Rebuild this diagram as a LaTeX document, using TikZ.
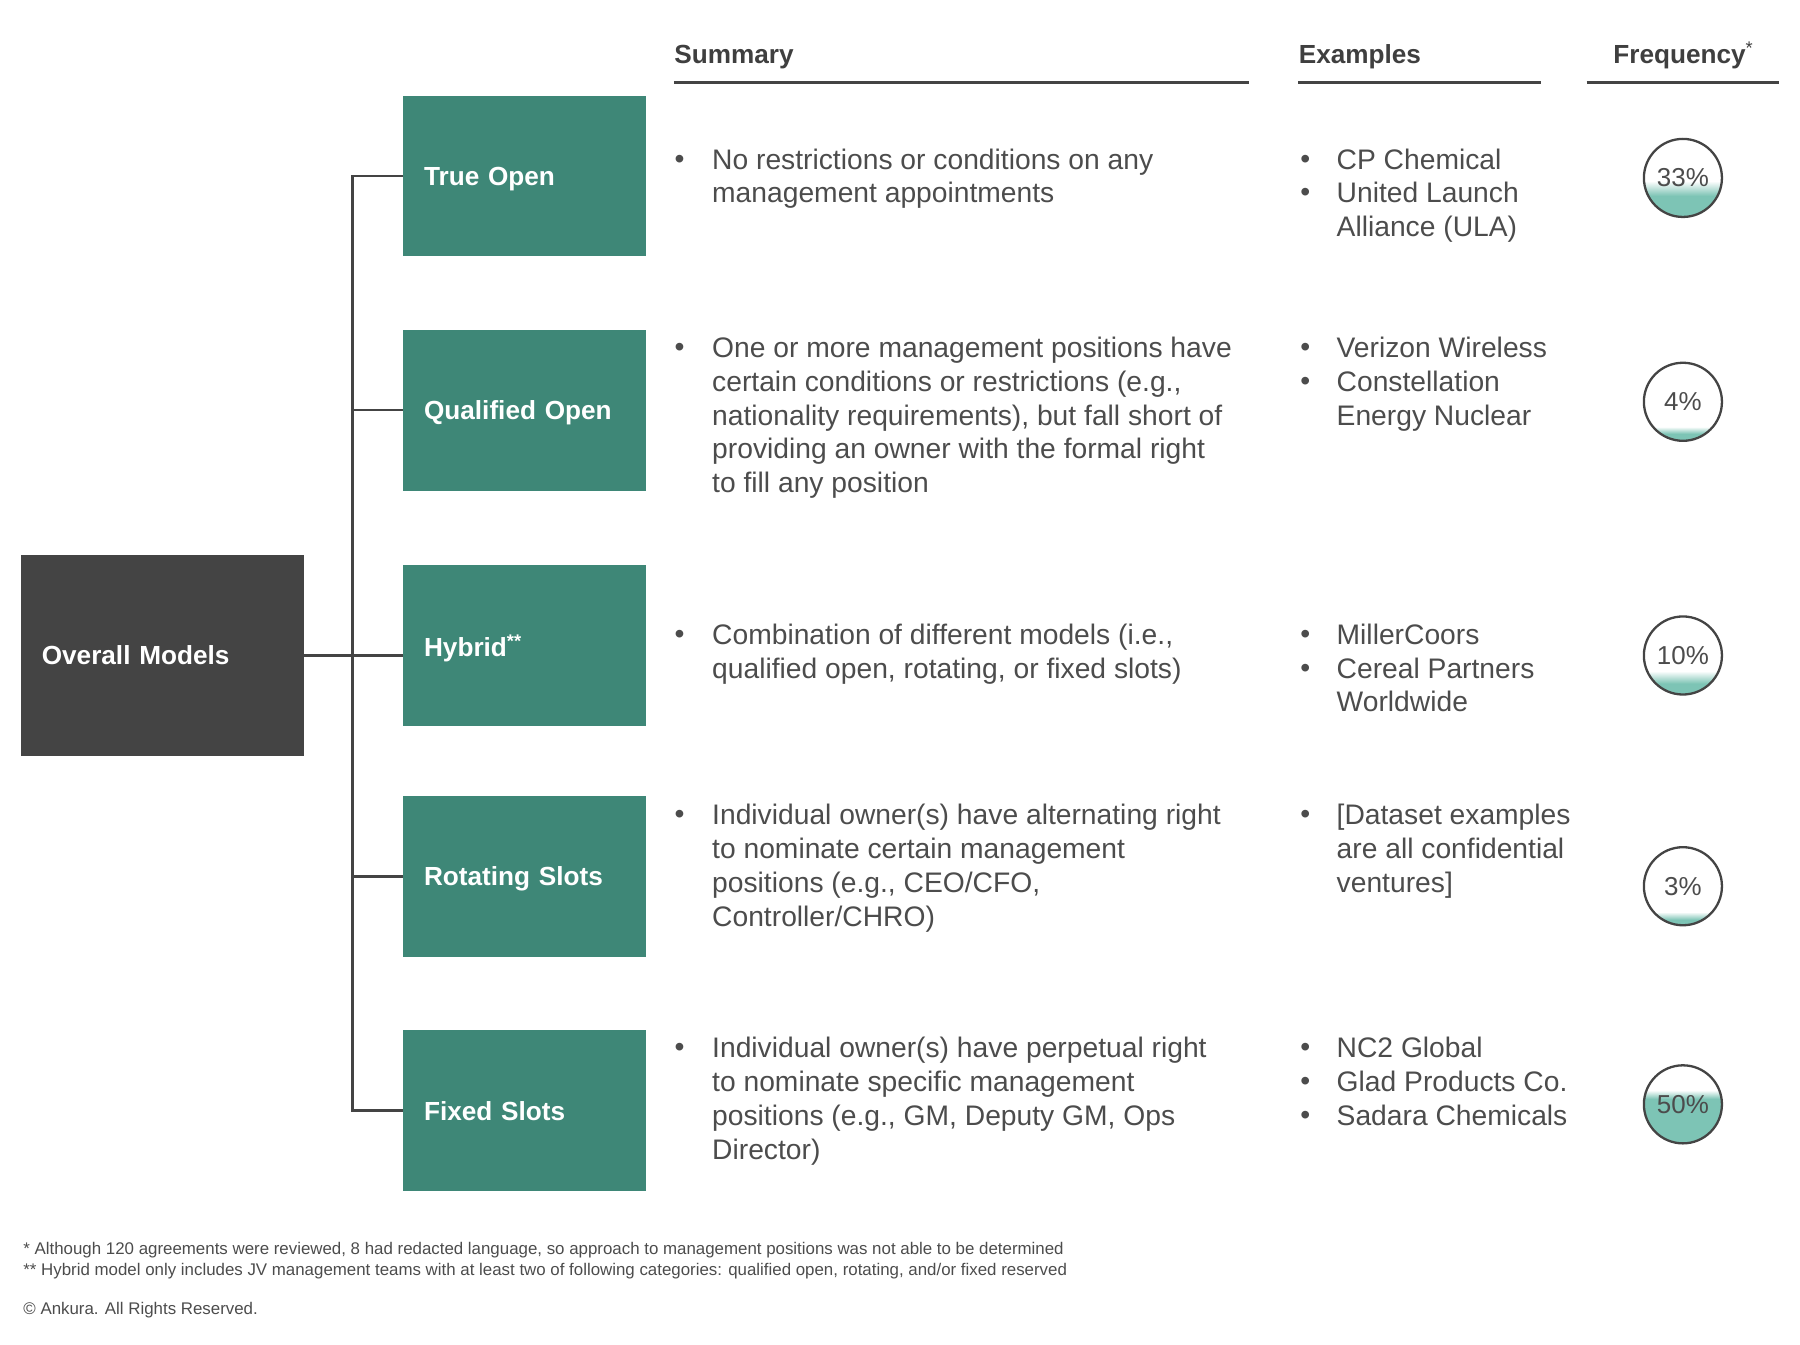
\documentclass[tikz,border=0pt]{standalone}
\usepackage{fontspec}
\setmainfont{Liberation Sans}
\definecolor{boxgreen}{HTML}{3E8777}
\definecolor{boxdark}{HTML}{444444}
\definecolor{txtgray}{HTML}{4C4C4C}
\definecolor{hdrgray}{HTML}{3F3F3F}
\definecolor{lteal}{HTML}{7DC4B5}
\newcommand\bodyf{\fontsize{12.3}{14.75}\selectfont}
\newcommand\circf{\fontsize{11.3}{13}\selectfont}
\newcommand\hdrf{\fontsize{11.4}{13.5}\selectfont\bfseries}
\newcommand\footf{\fontsize{7.35}{9}\selectfont}
\newcommand\freqc[5]{%
  \begin{scope}
    \clip (1466,#2) circle[radius=17pt];
    \fill[lteal] (1430,{#2+36}) rectangle (1502,{#2+34-#4*68});
    \shade[top color=white,bottom color=lteal] (1430,{#2+34-#4*68}) rectangle (1502,{#2+34-#5*68});
  \end{scope}
  \node[freq] (#1) at (1466,#2) {#3};}
\begin{document}
\begin{tikzpicture}[x=0.5pt,y=-0.5pt,
  greenbox/.style={fill=boxgreen, minimum width=105.5pt, minimum height=70pt, inner sep=0pt,
     inner xsep=9pt, text width=87.5pt, text depth=0pt, align=left, anchor=north west, text=white, font=\hdrf},
  darkbox/.style={fill=boxdark, minimum width=123pt, minimum height=87.5pt, inner sep=0pt,
     inner xsep=9pt, text width=105pt, text depth=0pt, align=left, anchor=north west, text=white, font=\hdrf},
  conn/.style={draw=boxdark, line width=1pt},
  hline/.style={draw=boxdark, line width=1.2pt},
  hdr/.style={anchor=base west, inner sep=0pt, text=hdrgray, font=\hdrf},
  bodytxt/.style={anchor=north west, inner sep=0pt, align=left, text=txtgray, font=\bodyf},
  bul/.style={inner sep=0pt, text=txtgray, font=\bodyf},
  freq/.style={circle, draw=boxdark, line width=1pt, minimum size=34pt, inner sep=0pt, text=txtgray, font=\circf},
  foot/.style={anchor=base west, inner sep=0pt, text=txtgray, font=\footf}]
\useasboundingbox (0,0) rectangle (1568,1171);

% headers
\node[hdr] (hsum) at (587,55) {Summary};
\node[hdr] (hex) at (1131,55) {Examples};
\node[hdr] (hfr) at (1405,55) {Frequency\textsuperscript{\mdseries*}};
\draw[hline] (587,72) -- (1088,72);
\draw[hline] (1131,72) -- (1342,72);
\draw[hline] (1382,72) -- (1550,72);

% boxes
\node[darkbox] (ov) at (18,483) {Overall Models};
\node[greenbox] (b1) at (351,83) {True Open};
\node[greenbox] (b2) at (351,287) {Qualified Open};
\node[greenbox] (b3) at (351,492) {Hybrid\textsuperscript{**}};
\node[greenbox] (b4) at (351,693) {Rotating Slots};
\node[greenbox] (b5) at (351,897) {Fixed Slots};

% connectors
\coordinate (tx) at (307,0);
\draw[conn] (b1.west) -- (b1.west -| tx) -- (b5.west -| tx) -- (b5.west);
\draw[conn] (b2.west) -- (b2.west -| tx);
\draw[conn] (b4.west) -- (b4.west -| tx);
\draw[conn] (ov.east) -- (ov.east -| b3.west);

% summaries
\node[bul] (sb1) at (592,141) {•};
\node[bodytxt] (s1) at (620,129) {No restrictions or conditions on any\\management appointments};
\node[bul] (sb2) at (592,305) {•};
\node[bodytxt] (s2) at (620,293) {One or more management positions have\\certain conditions or restrictions (e.g.,\\nationality requirements), but fall short of\\providing an owner with the formal right\\to fill any position};
\node[bul] (sb3) at (592,555) {•};
\node[bodytxt] (s3) at (620,543) {Combination of different models (i.e.,\\qualified open, rotating, or fixed slots)};
\node[bul] (sb4) at (592,712) {•};
\node[bodytxt] (s4) at (620,700) {Individual owner(s) have alternating right\\to nominate certain management\\positions (e.g., CEO/CFO,\\Controller/CHRO)};
\node[bul] (sb5) at (592,915) {•};
\node[bodytxt] (s5) at (620,903) {Individual owner(s) have perpetual right\\to nominate specific management\\positions (e.g., GM, Deputy GM, Ops\\Director)};

% examples
\node[bul] (eb1a) at (1137,141) {•};
\node[bul] (eb1b) at (1137,170) {•};
\node[bodytxt] (e1) at (1164,129) {CP Chemical\\United Launch\\Alliance (ULA)};
\node[bul] (eb2a) at (1137,305) {•};
\node[bul] (eb2b) at (1137,334) {•};
\node[bodytxt] (e2) at (1164,293) {Verizon Wireless\\Constellation\\Energy Nuclear};
\node[bul] (eb3a) at (1137,555) {•};
\node[bul] (eb3b) at (1137,584) {•};
\node[bodytxt] (e3) at (1164,543) {MillerCoors\\Cereal Partners\\Worldwide};
\node[bul] (eb4) at (1137,712) {•};
\node[bodytxt] (e4) at (1164,700) {[Dataset examples\\are all confidential\\ventures]};
\node[bul] (eb5a) at (1137,915) {•};
\node[bul] (eb5b) at (1137,944) {•};
\node[bul] (eb5c) at (1137,974) {•};
\node[bodytxt] (e5) at (1164,903) {NC2 Global\\Glad Products Co.\\Sadara Chemicals};

% frequencies
\freqc{f1}{155}{33\%}{0.27}{0.46}
\freqc{f2}{350}{4\%}{0.09}{0.18}
\freqc{f3}{571}{10\%}{0.14}{0.30}
\freqc{f4}{772}{3\%}{0.07}{0.17}
\freqc{f5}{962}{50\%}{0.57}{0.68}

% footnotes
\node[foot] (fn1) at (20,1093) {* Although 120 agreements were reviewed, 8 had redacted language, so approach to management positions was not able to be determined};
\node[foot] (fn2) at (20,1111) {** Hybrid model only includes JV management teams with at least two of following categories: qualified open, rotating, and/or fixed reserved};
\node[foot] (cr) at (20,1145) {© Ankura. All Rights Reserved.};
\end{tikzpicture}
\end{document}
